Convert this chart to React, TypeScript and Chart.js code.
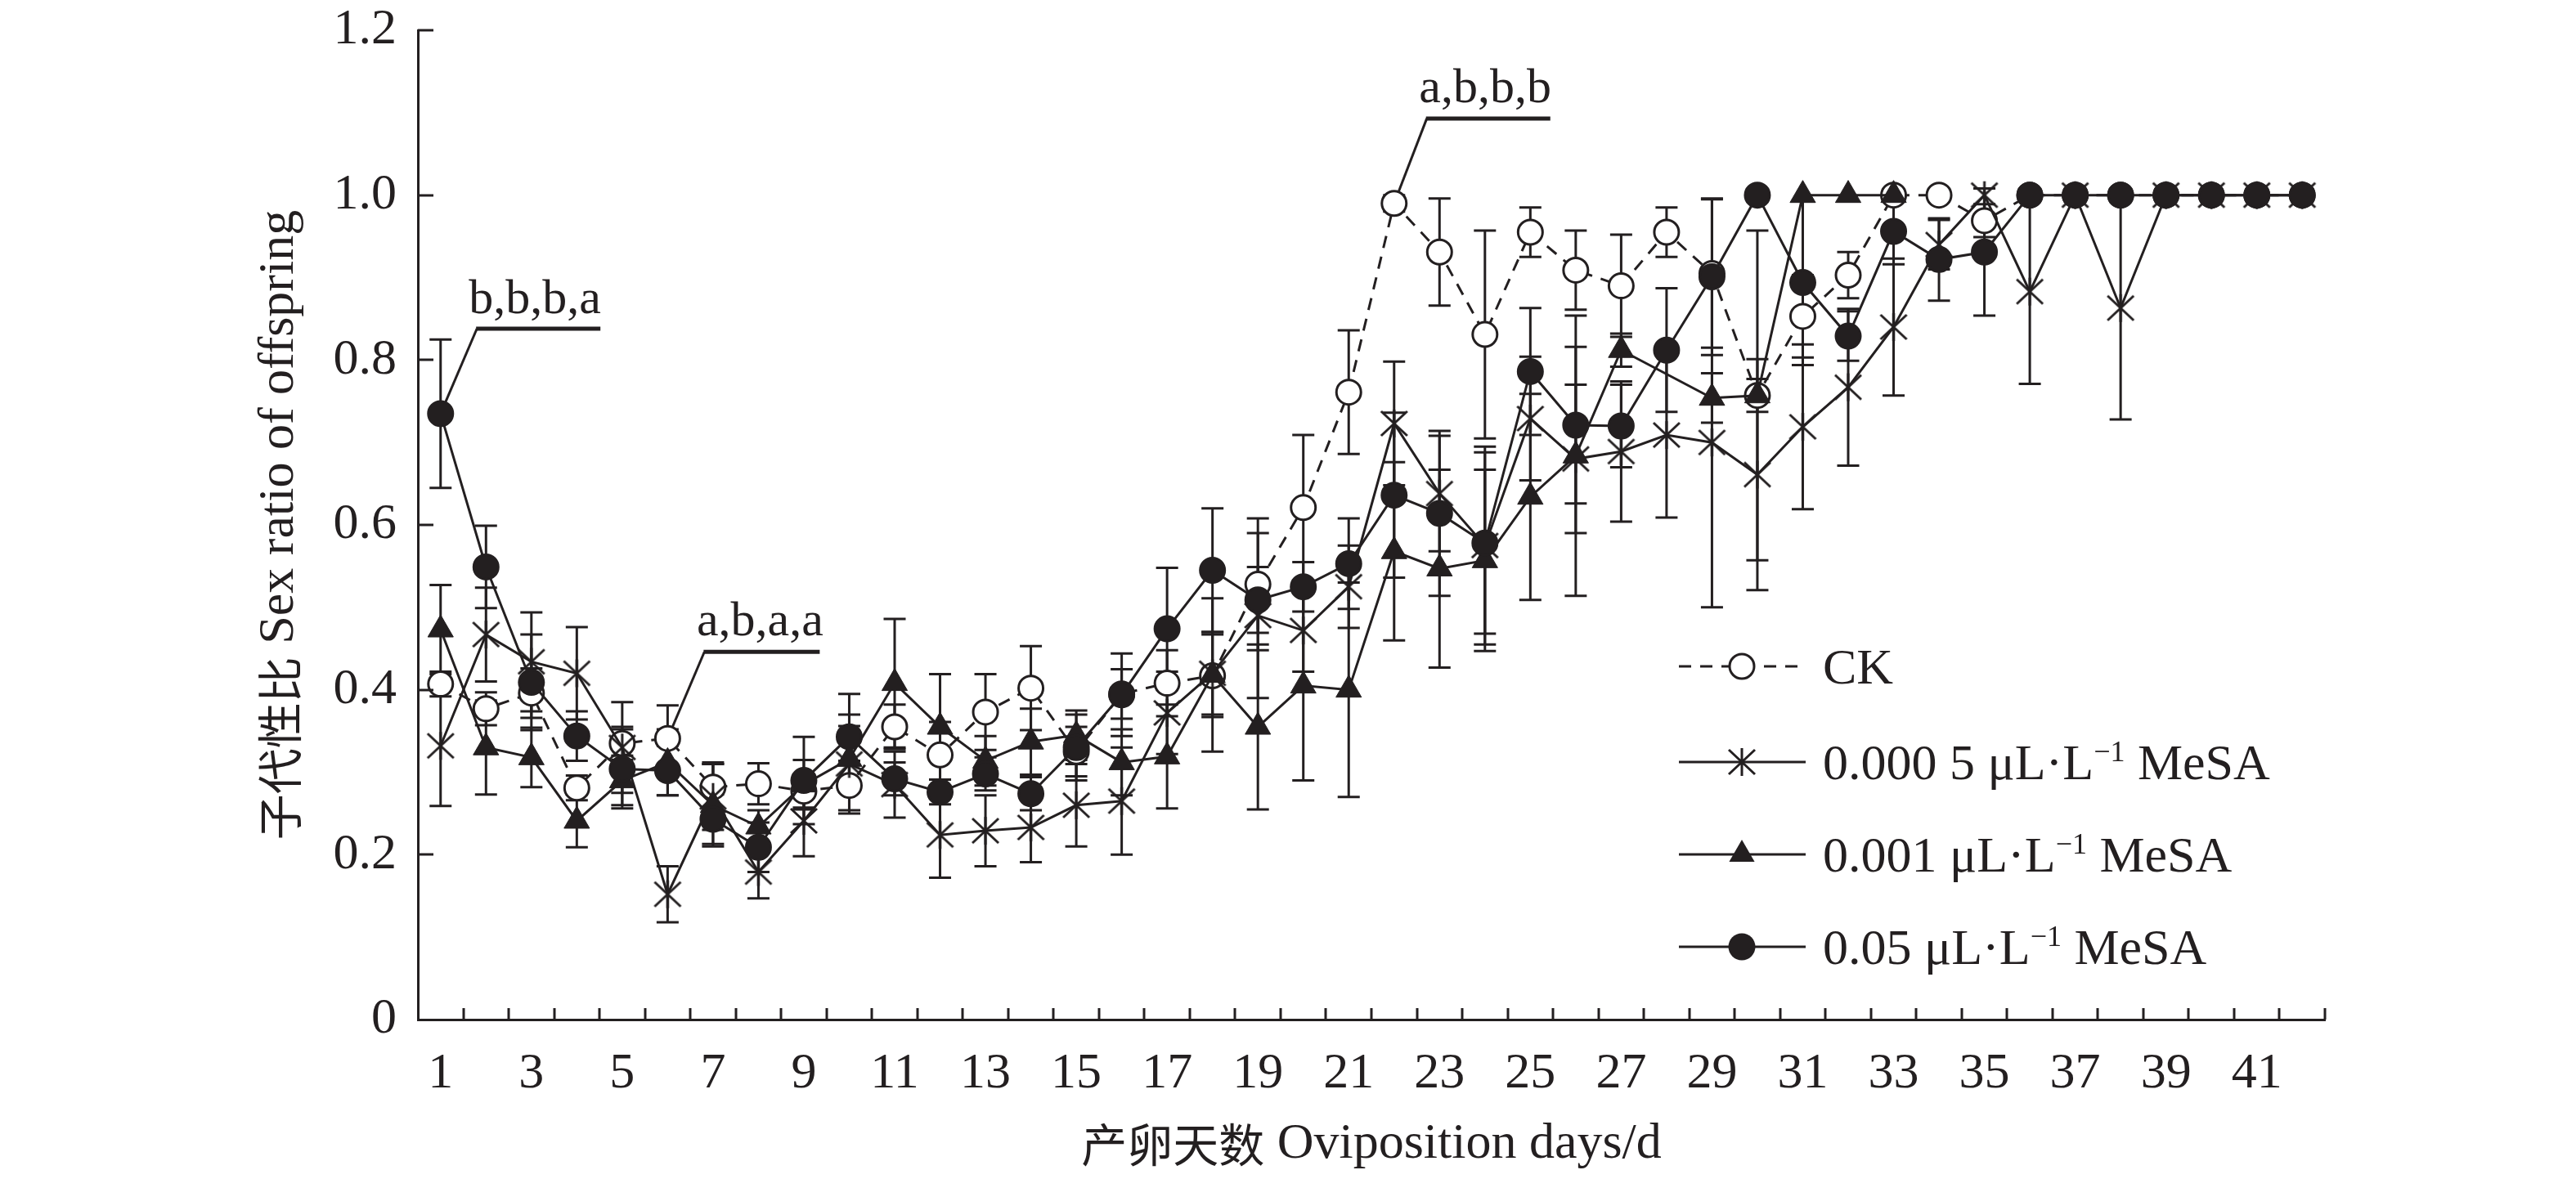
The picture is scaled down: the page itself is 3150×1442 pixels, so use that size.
import React, { useEffect, useRef } from "react";
import { Chart, registerables } from "chart.js";

Chart.register(...registerables);

const INK = "#231f20";
const SERIF = "'Liberation Serif', 'Times New Roman', serif";
const CJK = "'Noto Sans CJK SC', sans-serif";

// oviposition days (x categories)
const days = [
  "1", "2", "3", "4", "5", "6", "7", "8", "9", "10",
  "11", "12", "13", "14", "15", "16", "17", "18", "19", "20",
  "21", "22", "23", "24", "25", "26", "27", "28", "29", "30",
  "31", "32", "33", "34", "35", "36", "37", "38", "39", "40",
  "41", "42",
];

// CK
const ckValues = [
  0.407, 0.377, 0.396, 0.281, 0.335, 0.341, 0.282, 0.286, 0.277, 0.284,
  0.355, 0.321, 0.373, 0.402, 0.325, 0.395, 0.408, 0.417, 0.528, 0.621,
  0.761, 0.99, 0.931, 0.831, 0.955, 0.909, 0.89, 0.955, 0.905, 0.757,
  0.853, 0.903, 1.0, 1.0, 0.969, 1.0, 1.0, 1.0, 1.0, 1.0,
  1.0, 1.0,
];
const ckErrors = [
  0.015, 0.02, 0.03, 0.015, 0.02, 0.04, 0.03, 0.025, 0.02, 0.03,
  0.027, 0.04, 0.046, 0.051, 0.03, 0.03, 0.04, 0.05, 0.08, 0.088,
  0.075, 0.01, 0.065, 0.126, 0.03, 0.048, 0.062, 0.03, 0.09, 0.2,
  0.05, 0.028, 0, 0, 0.02, 0, 0, 0, 0, 0,
  0, 0,
];

// 0.000 5 uL/L MeSA
const lowValues = [
  0.332, 0.467, 0.434, 0.42, 0.33, 0.152, 0.27, 0.179, 0.241, 0.31,
  0.285, 0.224, 0.229, 0.233, 0.26, 0.265, 0.372, 0.42, 0.49, 0.472,
  0.525, 0.723, 0.638, 0.575, 0.729, 0.68, 0.689, 0.709, 0.7, 0.661,
  0.719, 0.767, 0.84, 0.94, 1.0, 0.883, 1.0, 0.863, 1.0, 1.0,
  1.0, 1.0,
];
const lowErrors = [
  0.073, 0.057, 0.06, 0.056, 0.055, 0.034, 0.04, 0.032, 0.043, 0.06,
  0.04, 0.052, 0.043, 0.042, 0.05, 0.065, 0.05, 0.05, 0.1, 0.05,
  0.05, 0.075, 0.07, 0.12, 0.075, 0.09, 0.085, 0.1, 0.2, 0.14,
  0.1, 0.095, 0.083, 0.03, 0, 0.112, 0, 0.135, 0, 0,
  0, 0,
];

// 0.001 uL/L MeSA
const midValues = [
  0.473, 0.33, 0.318, 0.241, 0.29, 0.312, 0.26, 0.234, 0.285, 0.316,
  0.408, 0.355, 0.314, 0.337, 0.345, 0.312, 0.319, 0.418, 0.355, 0.405,
  0.4, 0.568, 0.547, 0.557, 0.634, 0.684, 0.812, null, 0.754, 0.757,
  1.0, 1.0, 1.0, null, null, null, null, null, null, null,
  null, null,
];
const midErrors = [
  0.054, 0.057, 0.036, 0.032, 0.03, 0.04, 0.05, 0.02, 0.03, 0.04,
  0.078, 0.064, 0.03, 0.04, 0.03, 0.04, 0.063, 0.093, 0.1, 0.115,
  0.13, 0.108, 0.12, 0.11, 0.125, 0.17, 0.02, 0, 0.03, 0.02,
  0, 0, 0, 0, 0, 0, 0, 0, 0, 0,
  0, 0,
];

// 0.05 uL/L MeSA
const highValues = [
  0.735, 0.549, 0.409, 0.344, 0.304, 0.302, 0.243, 0.209, 0.29, 0.343,
  0.292, 0.276, 0.298, 0.274, 0.33, 0.394, 0.474, 0.545, 0.509, 0.525,
  0.553, 0.636, 0.614, 0.578, 0.786, 0.721, 0.72, 0.812, 0.901, 1.0,
  0.894, 0.829, 0.956, 0.922, 0.931, 1.0, 1.0, 1.0, 1.0, 1.0,
  1.0, 1.0,
];
const highErrors = [
  0.09, 0.05, 0.058, 0.03, 0.048, 0.03, 0.03, 0.03, 0.053, 0.052,
  0.02, 0.015, 0.02, 0.02, 0.04, 0.05, 0.074, 0.075, 0.04, 0.03,
  0.055, 0.1, 0.1, 0.11, 0.077, 0.095, 0.05, 0.075, 0.095, 0,
  0.1, 0.03, 0.04, 0.05, 0.077, 0, 0, 0, 0, 0,
  0, 0,
];

const seriesNames = [
  "CK",
  "0.000 5 μL·L−1 MeSA",
  "0.001 μL·L−1 MeSA",
  "0.05 μL·L−1 MeSA",
];

const yTicks = { min: 0, max: 1.2, step: 0.2 };

// significance letters, anchored on a point of one series
const notes = [
  { text: "b,b,b,a", series: highValues, day: 0, elbowX: 0.8, elbowY: 0.838, endX: 3.52, textX: 0.62, textY: 0.857 },
  { text: "a,b,a,a", series: ckValues, day: 5, elbowX: 5.81, elbowY: 0.446, endX: 8.35, textX: 5.64, textY: 0.466 },
  { text: "a,b,b,b", series: ckValues, day: 21, elbowX: 21.72, elbowY: 1.093, endX: 24.44, textX: 21.55, textY: 1.113 },
];

type Run = { text: string; font: string; dy?: number };

function drawRuns(ctx: CanvasRenderingContext2D, runs: Run[], x: number, y: number, align: "left" | "center") {
  const widths = runs.map((r) => {
    ctx.font = r.font;
    return ctx.measureText(r.text).width;
  });
  const total = widths.reduce((a, b) => a + b, 0);
  let cx = align === "center" ? x - total / 2 : x;
  ctx.textAlign = "left";
  runs.forEach((r, i) => {
    ctx.font = r.font;
    ctx.fillText(r.text, cx, y + (r.dy || 0));
    cx += widths[i];
  });
}

function unitRuns(label: string): Run[] {
  const main = `62px ${SERIF}`;
  const parts = label.split("−1");
  if (parts.length < 2) return [{ text: label, font: main }];
  return [
    { text: parts[0], font: main },
    { text: "−1", font: `36px ${SERIF}`, dy: -22 },
    { text: parts[1], font: main },
  ];
}

function makeAsterisk(): HTMLCanvasElement {
  const c = document.createElement("canvas");
  c.width = 38;
  c.height = 38;
  const g = c.getContext("2d")!;
  g.strokeStyle = INK;
  g.lineWidth = 3;
  g.beginPath();
  g.moveTo(19, 2);
  g.lineTo(19, 36);
  g.moveTo(3, 4);
  g.lineTo(35, 34);
  g.moveTo(35, 4);
  g.lineTo(3, 34);
  g.stroke();
  return c;
}

function drawMarker(ctx: CanvasRenderingContext2D, kind: number, x: number, y: number, star: HTMLCanvasElement) {
  ctx.save();
  ctx.lineWidth = 3;
  ctx.strokeStyle = INK;
  ctx.fillStyle = INK;
  if (kind === 0) {
    ctx.fillStyle = "#ffffff";
    ctx.beginPath();
    ctx.arc(x, y, 15, 0, Math.PI * 2);
    ctx.fill();
    ctx.stroke();
  } else if (kind === 1) {
    ctx.drawImage(star, x - star.width / 2, y - star.height / 2);
  } else if (kind === 2) {
    const r = 18;
    ctx.beginPath();
    for (let k = 0; k < 3; k++) {
      const a = (k * 2 * Math.PI) / 3;
      const px = x + Math.sin(a) * r;
      const py = y - Math.cos(a) * r;
      if (k === 0) ctx.moveTo(px, py);
      else ctx.lineTo(px, py);
    }
    ctx.closePath();
    ctx.fill();
  } else {
    ctx.beginPath();
    ctx.arc(x, y, 16.5, 0, Math.PI * 2);
    ctx.fill();
  }
  ctx.restore();
}

const App: React.FC = () => {
  const canvasRef = useRef<HTMLCanvasElement | null>(null);
  const chartRef = useRef<Chart<"line"> | null>(null);

  useEffect(() => {
    if (!canvasRef.current) return;
    const star = makeAsterisk();
    const errorSets = [ckErrors, lowErrors, midErrors, highErrors];

    const decor = {
      id: "decor",
      beforeDatasetsDraw(chart: any) {
        const ctx: CanvasRenderingContext2D = chart.ctx;
        const xs = chart.scales.x;
        const ys = chart.scales.y;
        ctx.save();
        ctx.strokeStyle = INK;
        ctx.lineWidth = 3;
        // error bars
        chart.data.datasets.forEach((ds: any, i: number) => {
          const errs = errorSets[i];
          ds.data.forEach((v: number | null, j: number) => {
            const e = errs[j];
            if (v === null || v === undefined || !e) return;
            const px = xs.getPixelForValue(j);
            const top = ys.getPixelForValue(v + e);
            const bot = ys.getPixelForValue(v - e);
            ctx.beginPath();
            ctx.moveTo(px, top);
            ctx.lineTo(px, bot);
            ctx.moveTo(px - 13.5, top);
            ctx.lineTo(px + 13.5, top);
            ctx.moveTo(px - 13.5, bot);
            ctx.lineTo(px + 13.5, bot);
            ctx.stroke();
          });
        });
        // significance notes
        notes.forEach((n) => {
          const ax = xs.getPixelForValue(n.day);
          const ay = ys.getPixelForValue(n.series[n.day] as number);
          const ex = xs.getPixelForValue(n.elbowX);
          const ey = ys.getPixelForValue(n.elbowY);
          const fx = xs.getPixelForValue(n.endX);
          ctx.lineWidth = 3;
          ctx.beginPath();
          ctx.moveTo(ax, ay);
          ctx.lineTo(ex, ey);
          ctx.stroke();
          ctx.lineWidth = 5;
          ctx.beginPath();
          ctx.moveTo(ex - 1, ey);
          ctx.lineTo(fx, ey);
          ctx.stroke();
          ctx.fillStyle = INK;
          ctx.textBaseline = "alphabetic";
          ctx.textAlign = "left";
          ctx.font = `60px ${SERIF}`;
          ctx.fillText(n.text, xs.getPixelForValue(n.textX), ys.getPixelForValue(n.textY));
        });
        ctx.restore();
      },
      afterDraw(chart: any) {
        const ctx: CanvasRenderingContext2D = chart.ctx;
        const xs = chart.scales.x;
        const ys = chart.scales.y;
        const area = chart.chartArea;
        ctx.save();
        ctx.strokeStyle = INK;
        ctx.lineWidth = 3;
        // inward tick marks
        ctx.beginPath();
        for (let k = 1; k <= days.length; k++) {
          const px = Math.round(xs.getPixelForValue(k - 0.5));
          ctx.moveTo(px, area.bottom);
          ctx.lineTo(px, area.bottom - 14);
        }
        for (let v = yTicks.step; v <= yTicks.max + 1e-9; v += yTicks.step) {
          const py = Math.round(ys.getPixelForValue(v));
          ctx.moveTo(area.left, py);
          ctx.lineTo(area.left + 19, py);
        }
        ctx.stroke();

        // axis titles
        ctx.fillStyle = INK;
        ctx.textBaseline = "middle";
        ctx.save();
        ctx.translate(342, (area.top + area.bottom) / 2);
        ctx.rotate(-Math.PI / 2);
        drawRuns(ctx, [
          { text: "子代性比", font: `56px ${CJK}` },
          { text: " Sex ratio of offspring", font: `62px ${SERIF}` },
        ], 0, 0, "center");
        ctx.restore();
        drawRuns(ctx, [
          { text: "产卵天数", font: `56px ${CJK}` },
          { text: " Oviposition days/d", font: `62px ${SERIF}` },
        ], (area.left + area.right) / 2, 1400, "center");

        // legend
        const rows = [815, 932, 1045, 1158];
        rows.forEach((ry, i) => {
          ctx.save();
          ctx.strokeStyle = INK;
          ctx.lineWidth = 3;
          if (i === 0) ctx.setLineDash([15, 11]);
          ctx.beginPath();
          ctx.moveTo(2053, ry);
          ctx.lineTo(2208, ry);
          ctx.stroke();
          ctx.restore();
          drawMarker(ctx, i, 2130, ry, star);
          ctx.fillStyle = INK;
          ctx.textBaseline = "alphabetic";
          drawRuns(ctx, unitRuns(seriesNames[i]), 2229, ry + 21, "left");
        });
        ctx.restore();
      },
    };

    const lineBase = {
      borderColor: INK,
      borderWidth: 3,
      tension: 0,
      pointBorderColor: INK,
      pointBorderWidth: 3,
      pointHoverRadius: 0,
    };

    chartRef.current = new Chart(canvasRef.current, {
      type: "line",
      data: {
        labels: days,
        datasets: [
          {
            ...lineBase,
            label: seriesNames[0],
            data: ckValues,
            borderDash: [15, 11],
            pointStyle: "circle",
            pointRadius: 15,
            pointBackgroundColor: "#ffffff",
            order: 3,
          },
          {
            ...lineBase,
            label: seriesNames[1],
            data: lowValues,
            pointStyle: star,
            pointRadius: 17,
            order: 2,
          },
          {
            ...lineBase,
            label: seriesNames[2],
            data: midValues,
            spanGaps: true,
            pointStyle: "triangle",
            pointRadius: 18,
            pointBorderWidth: 1,
            pointBackgroundColor: INK,
            order: 1,
          },
          {
            ...lineBase,
            label: seriesNames[3],
            data: highValues,
            pointStyle: "circle",
            pointRadius: 15,
            pointBackgroundColor: INK,
            order: 0,
          },
        ] as any,
      },
      options: {
        animation: false,
        responsive: false,
        devicePixelRatio: 1,
        layout: { padding: { top: 37, right: 307, left: 0, bottom: 0 } },
        plugins: {
          legend: { display: false },
          tooltip: { enabled: false },
        },
        scales: {
          x: {
            type: "category",
            offset: true,
            grid: { display: false, drawTicks: false },
            border: { display: true, color: INK, width: 3 },
            ticks: {
              autoSkip: false,
              maxRotation: 0,
              minRotation: 0,
              padding: 30,
              color: INK,
              font: { family: SERIF, size: 62 },
              callback: function (this: any, val: any, idx: number) {
                return idx % 2 === 0 ? this.getLabelForValue(val) : "";
              },
            },
            afterFit: (s: any) => {
              s.height = 195;
            },
          },
          y: {
            min: yTicks.min,
            max: yTicks.max,
            grid: { display: false, drawTicks: false },
            border: { display: true, color: INK, width: 3 },
            ticks: {
              stepSize: yTicks.step,
              padding: 26,
              color: INK,
              font: { family: SERIF, size: 62 },
              callback: (v: any) => (Number(v) === 0 ? "0" : Number(v).toFixed(1)),
            },
            afterFit: (s: any) => {
              s.width = 511;
              s.paddingTop = 0;
              s.paddingBottom = 0;
            },
          },
        },
      } as any,
      plugins: [decor],
    });

    return () => {
      if (chartRef.current) {
        chartRef.current.destroy();
        chartRef.current = null;
      }
    };
  }, []);

  return (
    <div style={{ position: "fixed", left: 0, top: 0, width: 3150, height: 1442, background: "#ffffff" }}>
      <canvas ref={canvasRef} width={3150} height={1442} style={{ display: "block", width: 3150, height: 1442 }} />
    </div>
  );
};

export default App;
